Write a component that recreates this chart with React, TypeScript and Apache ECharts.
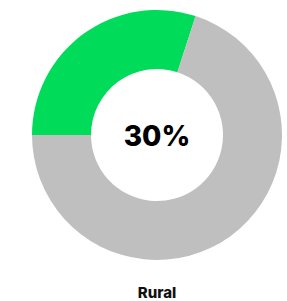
import React, { useEffect, useRef } from "react";
import * as echarts from "echarts";

const categories = ["Rural", "Other"];
const values = [30, 70];
const centerLabel = "30%";
const title = "Rural";

export default function App() {
  const ref = useRef<HTMLDivElement>(null);
  useEffect(() => {
    document.body.style.margin = "0";
    const chart = echarts.init(ref.current!, undefined, { renderer: "svg" });
    chart.setOption({
      animation: false,
      backgroundColor: "#ffffff",
      graphic: [
        {
          type: "text",
          x: 157,
          y: 136,
          style: {
            text: centerLabel,
            textAlign: "center",
            textVerticalAlign: "middle",
            fontFamily: "Inter",
            fontWeight: 800,
            fontSize: 28,
            fill: "#000000",
          },
        },
        {
          type: "text",
          x: 157,
          y: 300,
          style: {
            text: title,
            textAlign: "center",
            textVerticalAlign: "bottom",
            fontFamily: "Inter",
            fontWeight: 800,
            fontSize: 15,
            fill: "#111111",
          },
        },
      ],
      series: [
        {
          type: "pie",
          center: [157, 135],
          radius: [66, 125],
          startAngle: 180,
          clockwise: true,
          silent: true,
          label: { show: false },
          labelLine: { show: false },
          data: categories.map((c, i) => ({
            name: c,
            value: values[i],
            itemStyle: { color: i === 0 ? "#00DB5A" : "#BFBFBF" },
          })),
        },
      ],
    });
    return () => chart.dispose();
  }, []);
  return (
    <div
      ref={ref}
      style={{ position: "absolute", left: 0, top: 0, width: 287, height: 301 }}
    />
  );
}
